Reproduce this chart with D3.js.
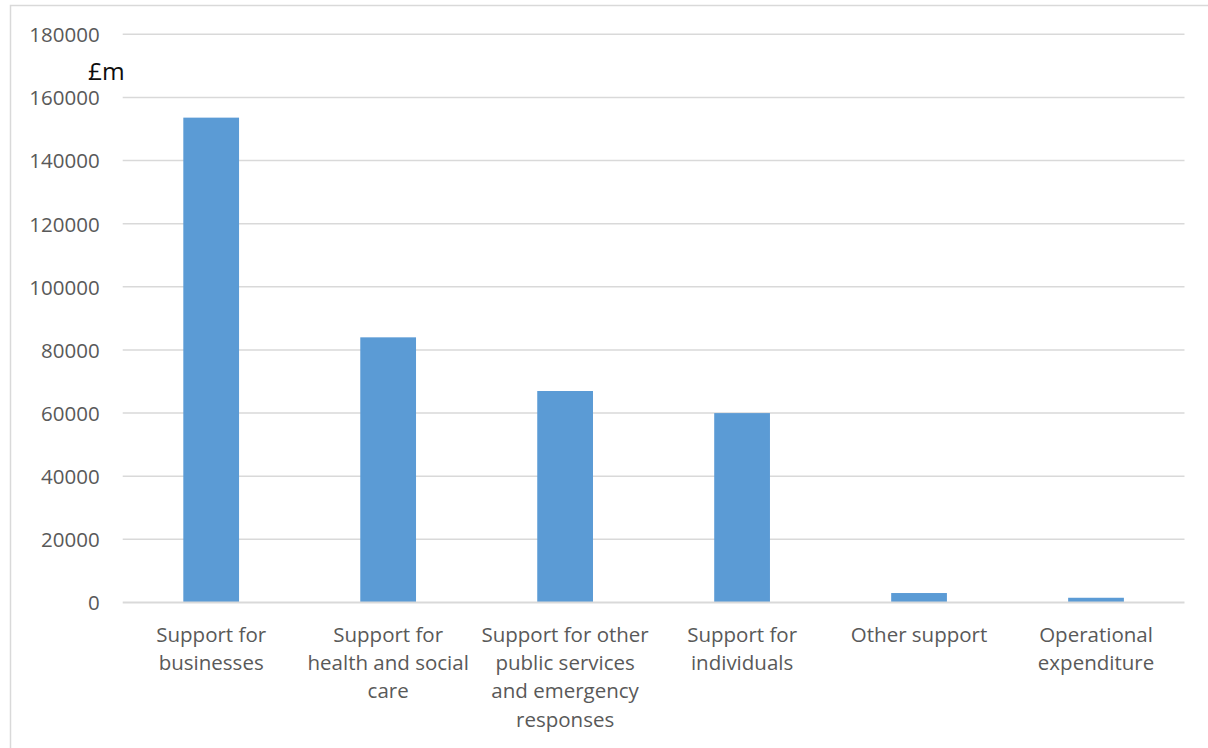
<!DOCTYPE html>
<html>
<head>
<meta charset="utf-8">
<script src="https://cdn.jsdelivr.net/npm/d3@7"></script>
<style>
  html, body { margin: 0; padding: 0; background: #fff; }
  svg { display: block; }
</style>
</head>
<body>
<svg id="chart" width="1208" height="748"></svg>
<script>
const categories = [
  "Support for businesses",
  "Support for health and social care",
  "Support for other public services and emergency responses",
  "Support for individuals",
  "Other support",
  "Operational expenditure"
];
const categoryLines = [
  ["Support for", "businesses"],
  ["Support for", "health and social", "care"],
  ["Support for other", "public services", "and emergency", "responses"],
  ["Support for", "individuals"],
  ["Other support"],
  ["Operational", "expenditure"]
];
const values = [153600, 84000, 67000, 60000, 3000, 1500];
const yTicks = [0, 20000, 40000, 60000, 80000, 100000, 120000, 140000, 160000, 180000];
const unitLabel = "£m";

(function () {
const svg = d3.select("#chart");
const pLeft = 122.7, pRight = 1184.5, pTop = 34.3, pBottom = 602.5;
const font = "'Open Sans', sans-serif";

// outer frame
svg.append("rect")
  .attr("x", 10.5).attr("y", 5.5)
  .attr("width", 1210).attr("height", 760)
  .attr("fill", "#fff")
  .attr("stroke", "#d9d9d9").attr("stroke-width", 1.5);

const x = d3.scaleBand().domain(categories).range([pLeft, pRight]).padding(0);
const y = d3.scaleLinear().domain([0, 180000]).range([pBottom, pTop]);

// gridlines
svg.append("g")
  .selectAll("line")
  .data(yTicks.filter(d => d > 0))
  .join("line")
  .attr("x1", pLeft).attr("x2", pRight)
  .attr("y1", d => y(d)).attr("y2", d => y(d))
  .attr("stroke", "#d9d9d9").attr("stroke-width", 1.5);

// y tick labels via axis
const yAxis = svg.append("g")
  .attr("transform", `translate(${pLeft - 23},0)`)
  .call(d3.axisLeft(y).tickValues(yTicks).tickSize(0).tickPadding(0).tickFormat(d3.format("d")));
yAxis.select(".domain").remove();
yAxis.selectAll("text")
  .attr("font-family", font)
  .attr("font-size", "20.5px")
  .attr("fill", "#595959")
  .attr("dy", "0.36em");

// bars
const barW = x.bandwidth() * 0.315;
svg.append("g")
  .selectAll("rect")
  .data(values)
  .join("rect")
  .attr("x", (d, i) => x(categories[i]) + x.bandwidth() / 2 - barW / 2)
  .attr("width", barW)
  .attr("y", d => y(d))
  .attr("height", d => y(0) - y(d))
  .attr("fill", "#5b9bd5");

// x axis line
svg.append("line")
  .attr("x1", pLeft).attr("x2", pRight)
  .attr("y1", y(0)).attr("y2", y(0))
  .attr("stroke", "#d9d9d9").attr("stroke-width", 2);

// category labels
const xAxis = svg.append("g")
  .attr("transform", `translate(0,${pBottom})`)
  .call(d3.axisBottom(x).tickSize(0).tickFormat(""));
xAxis.select(".domain").remove();
xAxis.selectAll(".tick").each(function(d, i) {
  const t = d3.select(this).append("text")
    .attr("font-family", font)
    .attr("font-size", "20.5px")
    .attr("fill", "#595959")
    .attr("text-anchor", "middle");
  categoryLines[i].forEach((ln, j) => {
    t.append("tspan").attr("x", 0).attr("y", 39.2 + j * 28.3).text(ln);
  });
});

// unit label
svg.append("text")
  .attr("x", 88).attr("y", 80)
  .attr("font-family", font)
  .attr("font-size", "24.5px")
  .attr("fill", "#0d0d0d")
  .text(unitLabel);
})();
</script>
</body>
</html>
